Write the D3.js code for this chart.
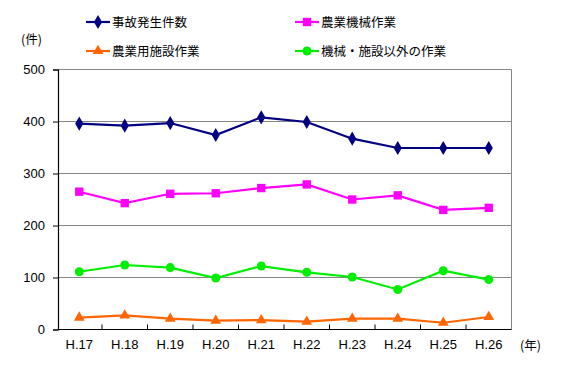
<!DOCTYPE html>
<html><head><meta charset="utf-8">
<script src="https://cdn.jsdelivr.net/npm/d3@7"></script>
<style>
body{margin:0;background:#fff;}
svg{display:block;font-family:"Noto Sans CJK JP","Noto Sans",sans-serif;}
</style></head>
<body><svg id="c" width="567" height="378"></svg>
<script>
const categories = ["H.17","H.18","H.19","H.20","H.21","H.22","H.23","H.24","H.25","H.26"];
const seriesNames = ["事故発生件数","農業機械作業","農業用施設作業","機械・施設以外の作業"];
const totalAccidents = [396,392,397,374,408,399,367,349,349,349];
const machineryWork = [265,243,261,262,272,279,250,258,230,234];
const facilityWork = [23,27,21,17,18,15,21,21,13,24];
const otherWork = [111,124,119,99,122,110,101,77,113,96];
const yTicks = [0,100,200,300,400,500];

const svg = d3.select("#c");
const L = 58, R = 511.5, T = 69.5, B = 329.5;
const x = d3.scaleBand().domain(categories).range([L - 1.5, R]).padding(0);
const y = d3.scaleLinear().domain([0,500]).range([B, T]);
const cx = d => x(d) + x.bandwidth()/2;
const numFont = "'Liberation Sans','DejaVu Sans',sans-serif";

// gridlines
svg.append("g").selectAll("line").data(yTicks.filter(v=>v>0)).join("line")
  .attr("x1", L).attr("x2", R).attr("y1", d=>y(d)).attr("y2", d=>y(d))
  .attr("stroke", "#868686").attr("stroke-width", 1);
// right border
svg.append("line").attr("x1",R).attr("x2",R).attr("y1",T).attr("y2",B)
  .attr("stroke","#868686");

// y axis
const ya = svg.append("g").attr("transform",`translate(${L},0)`)
  .call(d3.axisLeft(y).tickValues(yTicks).tickSize(5).tickPadding(8));
ya.select(".domain").attr("stroke","#000").attr("stroke-width",1.2);
ya.selectAll(".tick line").attr("stroke","#000");
ya.selectAll("text").attr("font-size",13).attr("fill","#000").attr("font-family",numFont);

// x axis
const xa = svg.append("g").attr("transform",`translate(0,${B})`)
  .call(d3.axisBottom(x).tickSize(0).tickPadding(10));
xa.select(".domain").attr("stroke","#000").attr("stroke-width",1.2).attr("d",`M${L},0H${R}`);
xa.selectAll("text").attr("font-size",13).attr("fill","#000").attr("font-family",numFont);
svg.append("g").selectAll("line").data(categories.slice(1)).join("line")
  .attr("x1", d=>x(d)).attr("x2", d=>x(d)).attr("y1", B).attr("y2", B-5)
  .attr("stroke","#000");

const series = [
  {name: seriesNames[0], values: totalAccidents, color:"#000080", sym: d3.symbolDiamond, size: 58},
  {name: seriesNames[1], values: machineryWork, color:"#ff00ff", sym: d3.symbolSquare, size: 70},
  {name: seriesNames[2], values: facilityWork, color:"#ff6600", sym: d3.symbolTriangle, size: 50},
  {name: seriesNames[3], values: otherWork, color:"#00ee00", sym: d3.symbolCircle, size: 64}
];
const line = d3.line().x((d,i)=>cx(categories[i])).y(d=>y(d));
series.forEach(s=>{
  svg.append("path").attr("d", line(s.values)).attr("fill","none")
    .attr("stroke", s.color).attr("stroke-width", 2.2);
  svg.append("g").selectAll("path").data(s.values).join("path")
    .attr("transform",(d,i)=>`translate(${cx(categories[i])},${y(d)})`)
    .attr("d", d3.symbol().type(s.sym).size(s.size)).attr("fill", s.color);
});

// legend
const legPos = [[86,22],[295,22],[86,51],[295,51]];
series.forEach((s,i)=>{
  const [lx,ly] = legPos[i];
  const g = svg.append("g").attr("transform",`translate(${lx},${ly})`);
  g.append("line").attr("x1",0).attr("x2",24).attr("y1",0).attr("y2",0)
    .attr("stroke",s.color).attr("stroke-width",2.2);
  g.append("path").attr("transform","translate(12,0)")
    .attr("d", d3.symbol().type(s.sym).size(s.size)).attr("fill",s.color);
  g.append("text").attr("x",26).attr("y",0).attr("dy","0.36em")
    .attr("font-size",12.5).attr("fill","#000").text(s.name);
});

// units
svg.append("text").attr("x",21).attr("y",39).attr("dy","0.36em").attr("font-size",12.5).text("(件)");
svg.append("text").attr("x",520).attr("y",345).attr("dy","0.36em").attr("font-size",12.5).text("(年)");
</script></body></html>
